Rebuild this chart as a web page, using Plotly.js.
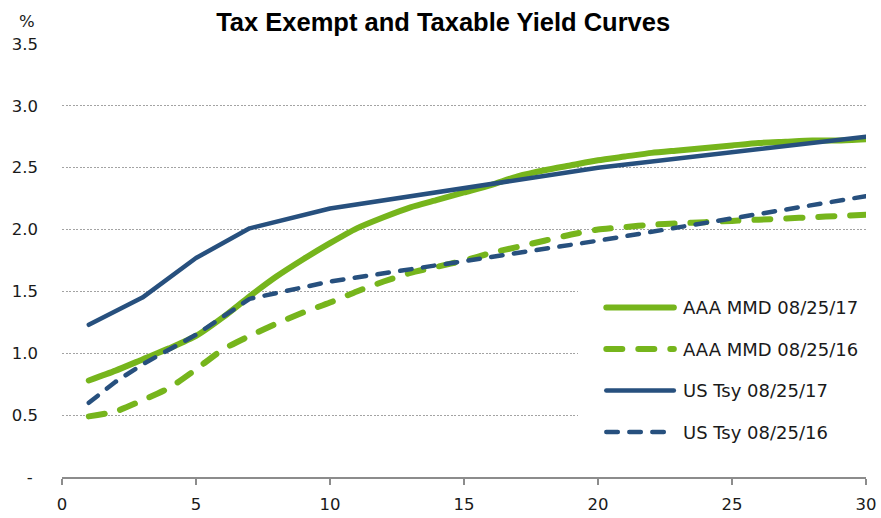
<!DOCTYPE html>
<html>
<head>
<meta charset="utf-8">
<script src="https://cdn.plot.ly/plotly-3.0.1.min.js"></script>
<style>
  html, body { margin: 0; padding: 0; background: #fff; }
  #chart { width: 881px; height: 518px; }
  /* rounded ends on the curves and on the legend samples */
  .scatterlayer .js-line, .shapelayer path { stroke-linecap: round; stroke-linejoin: round; }
</style>
</head>
<body>
<div id="chart"></div>
<script>
// Municipal (AAA MMD) curve, one point per year of maturity
const mmdYears = [1, 2, 3, 4, 5, 6, 7, 8, 9, 10, 11, 12, 13, 14, 15,
                  16, 17, 18, 19, 20, 21, 22, 23, 24, 25, 26, 27, 28, 29, 30];
const mmd2017 = [0.78, 0.86, 0.95, 1.04, 1.14, 1.29, 1.46, 1.62, 1.76, 1.89,
                 2.01, 2.10, 2.18, 2.24, 2.30, 2.36, 2.43, 2.48, 2.52, 2.56,
                 2.59, 2.62, 2.64, 2.66, 2.68, 2.70, 2.71, 2.72, 2.72, 2.73];
const mmd2016 = [0.49, 0.53, 0.62, 0.72, 0.87, 1.03, 1.14, 1.24, 1.33, 1.41,
                 1.50, 1.58, 1.65, 1.70, 1.75, 1.81, 1.86, 1.91, 1.96, 2.00,
                 2.02, 2.04, 2.05, 2.06, 2.07, 2.08, 2.09, 2.10, 2.11, 2.12];

// Treasury curve at the benchmark tenors
const tsyYears = [1, 2, 3, 5, 7, 10, 20, 30];
const tsy2017 = [1.23, 1.34, 1.45, 1.77, 2.01, 2.17, 2.50, 2.75];
const tsy2016 = [0.60, 0.77, 0.91, 1.15, 1.44, 1.58, 1.91, 2.27];

const seriesNames = ['AAA MMD 08/25/17', 'AAA MMD 08/25/16', 'US Tsy 08/25/17', 'US Tsy 08/25/16'];

const yTicks = [0, 0.5, 1, 1.5, 2, 2.5, 3, 3.5];
const yTickText = ['-\u00a0', '0.5', '1.0', '1.5', '2.0', '2.5', '3.0', '3.5'];
const xTicks = [0, 5, 10, 15, 20, 25, 30];

const GREEN = '#76B51C';
const BLUE = '#27507E';
const GREEN_DASH = '16px,16px';
const BLUE_DASH = '11.5px,11.5px';
const TEXT = '#1a1a1a';
const LABEL_FONT = 'DejaVu Sans, Verdana, sans-serif';

const styles = [
  { color: GREEN, width: 6, dash: 'solid' },
  { color: GREEN, width: 6, dash: GREEN_DASH },
  { color: BLUE, width: 4.5, dash: 'solid' },
  { color: BLUE, width: 4.5, dash: BLUE_DASH }
];

const xs = [mmdYears, mmdYears, tsyYears, tsyYears];
const ys = [mmd2017, mmd2016, tsy2017, tsy2016];

const traces = ys.map((y, i) => ({
  type: 'scatter',
  mode: 'lines',
  name: seriesNames[i],
  x: xs[i],
  y: y,
  line: Object.assign({ shape: i < 2 ? 'spline' : 'linear', smoothing: 0.6 }, styles[i]),
  hoverinfo: 'x+y+name',
  showlegend: false
}));

// Hand-built legend in the lower right of the plot area
const legendRows = [0.3914, 0.2956, 0.1998, 0.1039];
const shapes = [{
  type: 'rect', xref: 'paper', yref: 'paper', layer: 'above',
  x0: 0.6418, x1: 1.0, y0: 0.05, y1: 0.444,
  fillcolor: '#ffffff', line: { width: 0 }
}];
const annotations = [{
  xref: 'paper', yref: 'paper', x: -0.0315, y: 1.053,
  xanchor: 'right', yanchor: 'middle', showarrow: false,
  text: '%', font: { family: LABEL_FONT, size: 16.5, color: TEXT }
}];
legendRows.forEach((ry, i) => {
  shapes.push({
    type: 'line', xref: 'paper', yref: 'paper', layer: 'above',
    x0: 0.677, x1: 0.761, y0: ry, y1: ry,
    line: styles[i]
  });
  annotations.push({
    xref: 'paper', yref: 'paper', x: 0.7693, y: ry,
    xanchor: 'left', yanchor: 'middle', showarrow: false,
    text: seriesNames[i], font: { family: LABEL_FONT, size: 18, color: TEXT }
  });
});

const layout = {
  width: 881,
  height: 518,
  margin: { l: 62, r: 15, t: 44, b: 41 },
  paper_bgcolor: '#ffffff',
  plot_bgcolor: '#ffffff',
  title: {
    text: 'Tax Exempt and Taxable Yield Curves',
    xref: 'container', x: 0.503, xanchor: 'center',
    yref: 'container', y: 0.958, yanchor: 'middle',
    font: { family: 'Liberation Sans, Arial, sans-serif', size: 25.5, weight: 'bold', color: '#000' }
  },
  xaxis: {
    range: [0, 30],
    tickvals: xTicks,
    ticks: 'outside', ticklen: 6, tickwidth: 2, tickcolor: '#8c8c8c',
    showline: true, linecolor: '#8c8c8c', linewidth: 2,
    showgrid: false, zeroline: false,
    ticklabelstandoff: 5,
    tickfont: { family: LABEL_FONT, size: 16.5, color: TEXT },
    fixedrange: true
  },
  yaxis: {
    range: [0, 3.5],
    tickvals: yTicks,
    ticktext: yTickText,
    ticks: '',
    showline: false, zeroline: false,
    showgrid: true, gridcolor: '#a3a3a3', gridwidth: 1.2, griddash: '2px,1.5px',
    ticklabelstandoff: 23,
    tickfont: { family: LABEL_FONT, size: 16.5, color: TEXT },
    fixedrange: true
  },
  shapes: shapes,
  annotations: annotations,
  showlegend: false
};

Plotly.newPlot('chart', traces, layout, { displayModeBar: false, staticPlot: true });
</script>
</body>
</html>
